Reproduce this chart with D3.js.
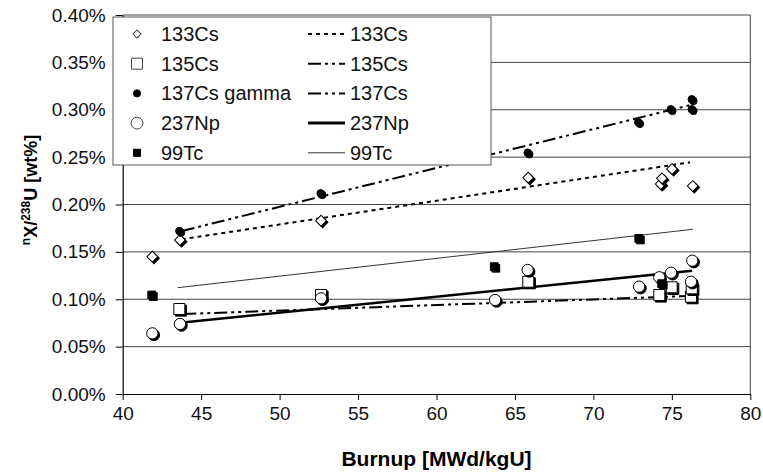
<!DOCTYPE html>
<html>
<head>
<meta charset="utf-8">
<script src="https://cdn.jsdelivr.net/npm/d3@7"></script>
<style>
  body { margin: 0; background: #fff; }
  svg { font-family: Arial, 'Liberation Sans', sans-serif; }
</style>
</head>
<body>
<svg id="chart" width="763" height="476"></svg>
<script>
// measured points, burnup (MWd/kgU) vs wt%
const burnupCs133 = [41.89, 43.65, 52.64, 65.85, 74.29, 74.37, 75.01, 76.33];
const valueCs133 = [0.1449, 0.1625, 0.1829, 0.2283, 0.2216, 0.2276, 0.2375, 0.2195];
const burnupCs135 = [43.61, 52.64, 65.85, 74.2, 74.99, 76.22, 76.27];
const valueCs135 = [0.0897, 0.1045, 0.1185, 0.1045, 0.1126, 0.1027, 0.1115];
const burnupCs137 = [43.61, 52.62, 65.81, 72.86, 74.93, 76.27, 76.27];
const valueCs137 = [0.172, 0.2118, 0.2547, 0.2868, 0.3005, 0.3005, 0.311];
const burnupNp237 = [41.89, 43.65, 52.64, 63.73, 65.81, 72.91, 74.2, 74.95, 76.3, 76.22];
const valueNp237 = [0.064, 0.0739, 0.101, 0.0992, 0.1309, 0.1133, 0.1232, 0.128, 0.1407, 0.1185];
const burnupTc99 = [41.85, 63.68, 72.89, 74.35];
const valueTc99 = [0.1045, 0.1344, 0.1643, 0.1165];

// trend line end points
const trendCs133 = [[43.76, 0.1633], [76.16, 0.2445]];
const trendCs135 = [[43.86, 0.0844], [76.22, 0.1035]];
const trendCs137 = [[43.76, 0.172], [76.2, 0.305]];
const trendNp237 = [[43.65, 0.0753], [76.29, 0.130]];
const trendTc99 = [[43.5, 0.1122], [76.33, 0.1738]];

const legendLeft = ['133Cs', '135Cs', '137Cs gamma', '237Np', '99Tc'];
const legendRight = ['133Cs', '135Cs', '137Cs', '237Np', '99Tc'];
const xTicks = [40, 45, 50, 55, 60, 65, 70, 75, 80];
const yTicks = [0, 0.05, 0.10, 0.15, 0.20, 0.25, 0.30, 0.35, 0.40];

const svg = d3.select('#chart');
const margin = {top: 15, right: 12.7, bottom: 82, left: 122.7};
const width = +svg.attr('width');
const height = +svg.attr('height');

const x = d3.scaleLinear().domain([40, 80]).range([margin.left, width - margin.right]);
const y = d3.scaleLinear().domain([0, 0.4]).range([height - margin.bottom, margin.top]);

// gridlines
svg.append('g')
    .selectAll('line')
    .data(yTicks.slice(1))
    .enter().append('line')
    .attr('x1', x(40)).attr('x2', x(80))
    .attr('y1', d => y(d)).attr('y2', d => y(d))
    .attr('stroke', '#444').attr('stroke-width', 1);

// right border
svg.append('line')
    .attr('x1', x(80)).attr('x2', x(80))
    .attr('y1', y(0.4)).attr('y2', y(0))
    .attr('stroke', '#444');

const yAxisG = svg.append('g')
    .attr('transform', `translate(${x(40)},0)`)
    .call(d3.axisLeft(y).tickValues(yTicks).tickSize(7).tickPadding(10).tickSizeOuter(0)
        .tickFormat(d => d3.format('.2f')(d) + '%'));
const xAxisG = svg.append('g')
    .attr('transform', `translate(0,${y(0)})`)
    .call(d3.axisBottom(x).tickValues(xTicks).tickSize(6).tickPadding(6.5).tickSizeOuter(0));

[yAxisG, xAxisG].forEach(a => {
    a.select('.domain').attr('stroke', '#000').attr('stroke-width', 1.2);
    a.selectAll('.tick line').attr('stroke', '#000');
    a.selectAll('.tick text').attr('font-size', 19).attr('fill', '#111')
        .attr('font-family', "Arial, 'Liberation Sans', sans-serif");
});

// axis titles
svg.append('text')
    .attr('x', (x(40) + x(80)) / 2).attr('y', 466)
    .attr('text-anchor', 'middle')
    .attr('font-size', 21).attr('font-weight', 'bold')
    .text('Burnup [MWd/kgU]');

const yTitle = svg.append('text')
    .attr('transform', 'translate(37,190) rotate(-90)')
    .attr('text-anchor', 'middle')
    .attr('font-size', 18).attr('font-weight', 'bold');
yTitle.append('tspan').attr('font-size', 12).attr('dy', -7).text('n');
yTitle.append('tspan').attr('dy', 7).text('X/');
yTitle.append('tspan').attr('font-size', 12).attr('dy', -7).text('238');
yTitle.append('tspan').attr('dy', 7).text('U [wt%]');

// trend lines
const line = d3.line().x(d => x(d[0])).y(d => y(d[1]));
const trendStyles = [
    {data: trendCs133, dash: '4,4', w: 2},
    {data: trendCs135, dash: '13,4,3,4,3,4', w: 2},
    {data: trendCs137, dash: '13,4,3,4,3,4', w: 2},
    {data: trendNp237, dash: null, w: 2.5},
    {data: trendTc99, dash: null, w: 1}
];
trendStyles.forEach(t => {
    svg.append('path')
        .attr('d', line(t.data))
        .attr('fill', 'none')
        .attr('stroke', t.w === 1 ? '#333' : '#000')
        .attr('stroke-width', t.w)
        .attr('stroke-dasharray', t.dash);
});

// marker shapes
const shapes = [
    {type: d3.symbolSquare, size: 58, rot: 45, fill: '#fff'},   // diamond
    {type: d3.symbolSquare, size: 121, rot: 0, fill: '#fff'},   // open square
    {type: d3.symbolCircle, size: 44, rot: 0, fill: '#000'},    // dot
    {type: d3.symbolCircle, size: 100, rot: 0, fill: '#fff'},   // open circle
    {type: d3.symbolSquare, size: 60, rot: 0, fill: '#000'}     // filled square
];
const series = [
    [burnupCs133, valueCs133],
    [burnupCs135, valueCs135],
    [burnupCs137, valueCs137],
    [burnupNp237, valueNp237],
    [burnupTc99, valueTc99]
];

series.forEach((s, i) => {
    const sh = shapes[i];
    const sym = d3.symbol().type(sh.type).size(sh.size);
    const pts = s[0].map((b, j) => [b, s[1][j]]);
    const grp = svg.append('g');
    pts.forEach(p => {
        grp.append('path')
            .attr('d', sym())
            .attr('transform', `translate(${x(p[0]) + 1.6},${y(p[1]) + 1.6}) rotate(${sh.rot})`)
            .attr('fill', '#000').attr('stroke', '#000');
        grp.append('path')
            .attr('d', sym())
            .attr('transform', `translate(${x(p[0])},${y(p[1])}) rotate(${sh.rot})`)
            .attr('fill', sh.fill).attr('stroke', '#000').attr('stroke-width', 1);
    });
});

// legend
const legend = svg.append('g');
legend.append('rect')
    .attr('x', 113).attr('y', 17).attr('width', 378).attr('height', 148)
    .attr('fill', '#fff').attr('stroke', '#555').attr('stroke-width', 1);
const legendShapes = [
    {type: d3.symbolSquare, size: 32, rot: 45},
    {type: d3.symbolSquare, size: 121, rot: 0},
    {type: d3.symbolCircle, size: 40, rot: 0},
    {type: d3.symbolCircle, size: 110, rot: 0},
    {type: d3.symbolSquare, size: 50, rot: 0}
];
legendLeft.forEach((name, i) => {
    const cy = 34 + i * 29.7;
    const sh = legendShapes[i];
    legend.append('path')
        .attr('d', d3.symbol().type(sh.type).size(sh.size)())
        .attr('transform', `translate(137,${cy}) rotate(${sh.rot})`)
        .attr('fill', shapes[i].fill).attr('stroke', shapes[i].fill === '#000' ? '#000' : '#444')
        .attr('stroke-width', 1);
    legend.append('text')
        .attr('x', 161).attr('y', cy + 7)
        .attr('font-size', 20).attr('fill', '#111')
        .text(name);
    legend.append('line')
        .attr('x1', 308).attr('x2', 345)
        .attr('y1', cy).attr('y2', cy)
        .attr('stroke', trendStyles[i].w === 1 ? '#333' : '#000')
        .attr('stroke-width', i === 3 ? 3 : trendStyles[i].w)
        .attr('stroke-dasharray', trendStyles[i].dash);
    legend.append('text')
        .attr('x', 350).attr('y', cy + 7)
        .attr('font-size', 20).attr('fill', '#111')
        .text(legendRight[i]);
});
</script>
</body>
</html>
